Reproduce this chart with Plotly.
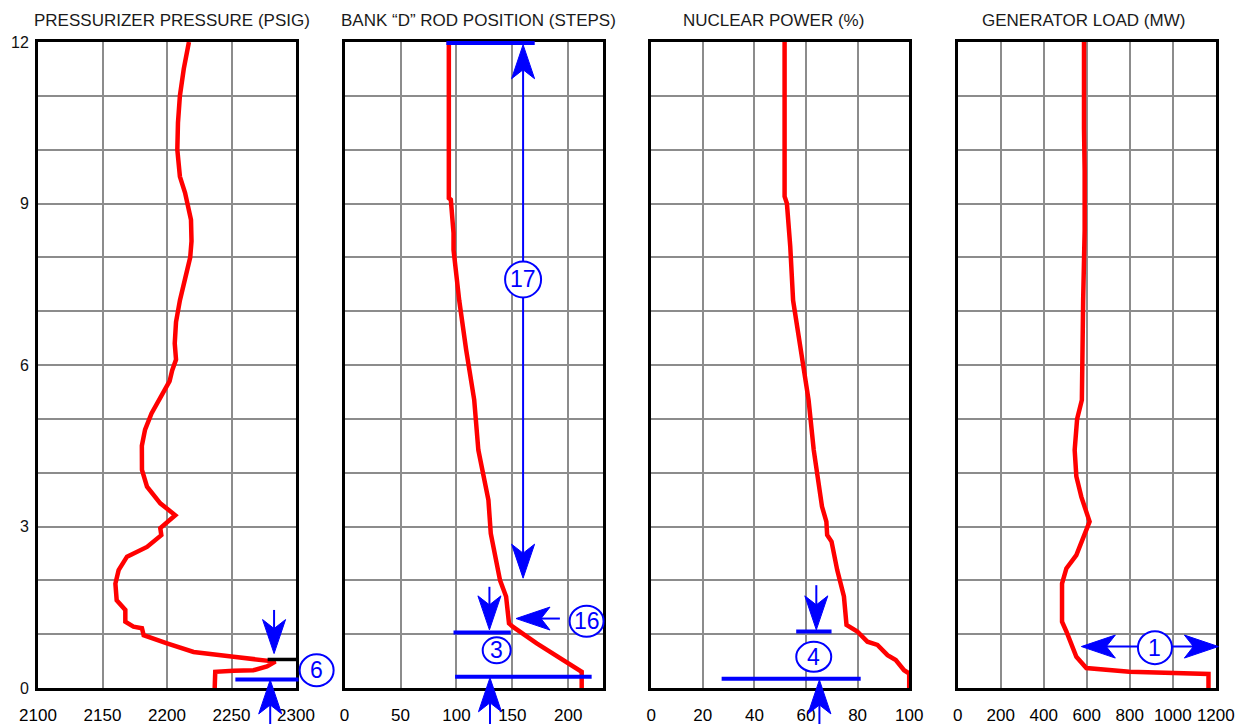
import plotly.graph_objects as go

# ---------------- recorded transient (time in minutes, 0 at bottom) ----------------
pressure_t = [12.0, 11.5, 11.0, 10.5, 10.0, 9.5, 9.2, 9.0, 8.7, 8.3, 8.0, 7.6, 7.2, 6.8,
              6.4, 6.1, 5.9, 5.7, 5.4, 5.1, 4.8, 4.5, 4.05, 3.74, 3.43, 3.21, 2.97, 2.84,
              2.62, 2.44, 2.19, 1.94, 1.63, 1.45, 1.23, 1.14, 1.11, 0.98, 0.83, 0.67,
              0.58, 0.49, 0.40, 0.33, 0.32, 0.30, 0.02, 0.0]
pressure_psig = [2217, 2213, 2210, 2208.5, 2208, 2210, 2214, 2216, 2218.6, 2219, 2218, 2214,
                 2210, 2207, 2206, 2207, 2204, 2202, 2195, 2188, 2183, 2180.5, 2180.6,
                 2184.5, 2194.8, 2206.4, 2194.8, 2195.6, 2184.5, 2169, 2162.5, 2160, 2161,
                 2167.7, 2167.7, 2174, 2180.6, 2181.9, 2200, 2220.6, 2251.6, 2284, 2277.5,
                 2267, 2251.6, 2237.4, 2237, 2237]

rod_t = [12.0, 9.1, 9.07, 8.45, 8.14, 7.2, 6.28, 5.35, 4.42, 3.99, 3.49, 2.87, 2.44, 2.0,
         1.70, 1.20, 1.14, 0.83, 0.30, 0.0]
rod_steps = [93.2, 93.2, 95, 97.4, 97.4, 102.5, 108.7, 115.9, 119.6, 124, 128.6, 130.7,
             134.6, 139, 144.4, 147, 150.3, 171.8, 212, 212]

power_t = [12.0, 9.13, 9.0, 8.2, 7.2, 6.28, 5.35, 4.42, 3.80, 3.37, 3.09, 2.84, 2.72, 2.19,
           1.70, 1.17, 1.05, 0.86, 0.80, 0.61, 0.52, 0.33, 0.27, 0.0]
power_pct = [51.7, 51.7, 52.6, 53.9, 55, 57.8, 61, 63, 64.9, 66.2, 67.9, 68.2, 69.9, 72.1,
             74.7, 75.7, 79.9, 83.8, 87.7, 91.6, 94.8, 98, 100, 100]

load_t = [12.0, 10.45, 10.4, 9.6, 8.5, 7.2, 6.3, 5.35, 5.0, 4.42, 3.93, 3.55, 3.09, 2.78,
          2.47, 2.22, 1.94, 1.23, 1.05, 0.58, 0.37, 0.30, 0.26, 0.0]
load_mw = [587, 584, 587, 590, 590, 583, 582, 577, 555, 543.6, 551.4, 574.6, 613, 582,
           551.4, 505, 484.8, 484.8, 505, 551.4, 597.7, 798, 1166, 1166]

titles = ["PRESSURIZER PRESSURE (PSIG)", "BANK \u201cD\u201d ROD POSITION (STEPS)",
          "NUCLEAR POWER (%)", "GENERATOR LOAD (MW)"]
x_ranges = [(2100, 2300), (0, 230.7), (0, 100), (0, 1200)]
x_dticks = [50, 50, 20, 200]
time_ticks = [0, 3, 6, 9, 12]

# ---------------- page geometry ----------------
W, H = 1241, 724
M_L, M_R, M_T, M_B = 38, 24, 42, 36
PW, PH = W - M_L - M_R, H - M_T - M_B
PANEL_W, PANEL_STEP = 258, 306.6
domains = [[i * PANEL_STEP / PW, (i * PANEL_STEP + PANEL_W) / PW] for i in range(4)]
title_px = [171.5, 478, 773, 1083]

RED = "#ff0000"
BLUE = "#0000ff"
GRID = "#8c8c8c"
FONT = "Liberation Sans, Arial, sans-serif"


def xpx(panel, v):
    lo, hi = x_ranges[panel]
    d0, d1 = domains[panel]
    return M_L + (d0 + (v - lo) / (hi - lo) * (d1 - d0)) * PW


def ypx(v):
    return H - M_B - v / 12.0 * PH


def px2paper(px, py):
    return (px - M_L) / PW, (H - M_B - py) / PH


fig = go.Figure()
series = [(pressure_psig, pressure_t), (rod_steps, rod_t), (power_pct, power_t), (load_mw, load_t)]
for i, (xs, ts) in enumerate(series):
    sfx = "" if i == 0 else str(i + 1)
    fig.add_trace(go.Scatter(x=xs, y=ts, mode="lines", xaxis="x" + sfx, yaxis="y" + sfx,
                             line=dict(color=RED, width=4.5), showlegend=False,
                             hoverinfo="skip"))

layout = dict(width=W, height=H, margin=dict(l=M_L, r=M_R, t=M_T, b=M_B),
              paper_bgcolor="white", plot_bgcolor="white", showlegend=False)
for i in range(4):
    sfx = "" if i == 0 else str(i + 1)
    lo, hi = x_ranges[i]
    layout["xaxis" + sfx] = dict(
        domain=domains[i], range=[lo, hi], anchor="y" + sfx, tick0=0, dtick=x_dticks[i],
        showgrid=True, gridcolor=GRID, gridwidth=2, zeroline=False, automargin=False,
        showline=True, mirror=True, linecolor="black", linewidth=3, ticks="",
        tickfont=dict(family=FONT, size=17, color="#000000"), ticklabelstandoff=10,
        fixedrange=True)
    layout["yaxis" + sfx] = dict(
        domain=[0, 1], range=[0, 12], anchor="x" + sfx, tickvals=time_ticks,
        showticklabels=(i == 0), showgrid=True, gridcolor=GRID, gridwidth=2,
        minor=dict(dtick=1, tick0=0, showgrid=True, gridcolor=GRID, gridwidth=2),
        zeroline=False, automargin=False, showline=True, mirror=True, linecolor="black",
        linewidth=3, ticks="", tickfont=dict(family=FONT, size=16, color="#111111"),
        ticklabelstandoff=3, fixedrange=True)
fig.update_layout(**layout)

shapes = []
annotations = []


def seg(x0, y0, x1, y1, color, width):
    a = px2paper(x0, y0)
    b = px2paper(x1, y1)
    shapes.append(dict(type="line", xref="paper", yref="paper", x0=a[0], y0=a[1],
                       x1=b[0], y1=b[1], line=dict(color=color, width=width),
                       layer="above"))


def head(tx, ty, dx, dy, length=34, half=11.5, notch=9):
    nx, ny = -dy, dx
    bx, by = tx - dx * length, ty - dy * length
    pts = [(tx, ty), (bx + nx * half, by + ny * half),
           (tx - dx * (length - notch), ty - dy * (length - notch)),
           (bx - nx * half, by - ny * half)]
    pp = [px2paper(x, y) for x, y in pts]
    path = "M " + " L ".join(f"{x:.5f},{y:.5f}" for x, y in pp) + " Z"
    shapes.append(dict(type="path", xref="paper", yref="paper", path=path,
                       fillcolor=BLUE, line=dict(color=BLUE, width=1), layer="above"))


def arrow(x0, y0, x1, y1, both=False):
    # pixel coordinates; tip at (x1, y1)
    L = ((x1 - x0) ** 2 + (y1 - y0) ** 2) ** 0.5
    dx, dy = (x1 - x0) / L, (y1 - y0) / L
    sx0, sy0 = (x0 + dx * 20, y0 + dy * 20) if both else (x0, y0)
    seg(sx0, sy0, x1 - dx * 20, y1 - dy * 20, BLUE, 2)
    head(x1, y1, dx, dy)
    if both:
        head(x0, y0, -dx, -dy)


def bar(panel, xa, xb, t, color=BLUE, width=4):
    seg(xpx(panel, xa), ypx(t), xpx(panel, xb), ypx(t), color, width)


def callout(panel, xv, t, label, rx=17, ry=16):
    cx, cy = xpx(panel, xv), ypx(t)
    a = px2paper(cx - rx, cy + ry)
    b = px2paper(cx + rx, cy - ry)
    shapes.append(dict(type="circle", xref="paper", yref="paper", x0=a[0], y0=a[1],
                       x1=b[0], y1=b[1], fillcolor="white",
                       line=dict(color=BLUE, width=2), layer="above"))
    c = px2paper(cx, cy)
    annotations.append(dict(x=c[0], y=c[1], xref="paper", yref="paper", text=label,
                            showarrow=False, xanchor="center", yanchor="middle",
                            font=dict(family=FONT, size=23, color=BLUE)))


BELOW = ypx(-0.9)

# Pressurizer pressure: peak marker and setpoint
bar(0, 2278, 2302, 0.53, color="black", width=3.5)
bar(0, 2253, 2302, 0.16)
arrow(xpx(0, 2283), ypx(1.45), xpx(0, 2283), ypx(0.64))
arrow(xpx(0, 2280), BELOW, xpx(0, 2280), ypx(0.15))
callout(0, 2316, 0.33, "6", rx=17, ry=16)

# Rod position
bar(1, 91, 170, 11.98)
arrow(xpx(1, 159.6), ypx(2.04), xpx(1, 159.6), ypx(11.95), both=True)
callout(1, 159.6, 7.59, "17", rx=18, ry=18)
bar(1, 97.4, 148.6, 1.03)
arrow(xpx(1, 129.5), ypx(1.88), xpx(1, 129.5), ypx(1.08))
callout(1, 136, 0.70, "3", rx=14, ry=13)
bar(1, 98.8, 220.9, 0.21)
arrow(xpx(1, 130), BELOW, xpx(1, 130), ypx(0.19))
arrow(xpx(1, 192.5), ypx(1.29), xpx(1, 153.3), ypx(1.29))
callout(1, 216.4, 1.24, "16", rx=17, ry=15.5)

# Nuclear power
bar(2, 56.2, 69.9, 1.05)
arrow(xpx(2, 64), ypx(1.91), xpx(2, 64), ypx(1.08))
callout(2, 63, 0.58, "4", rx=17.5, ry=15)
bar(2, 27.3, 81.2, 0.17)
arrow(xpx(2, 65.2), BELOW, xpx(2, 65.2), ypx(0.15))

# Generator load
arrow(xpx(3, 574.6), ypx(0.77), xpx(3, 1212), ypx(0.77), both=True)
callout(3, 917, 0.75, "1", rx=17, ry=16.5)

for i, t in enumerate(titles):
    p = px2paper(title_px[i], 20)
    annotations.append(dict(x=p[0], y=p[1], xref="paper", yref="paper", text=t,
                            showarrow=False, xanchor="center", yanchor="middle",
                            font=dict(family=FONT, size=17, color="#1a1a1a")))

fig.update_layout(shapes=shapes, annotations=annotations)
fig.write_html("out.html")
